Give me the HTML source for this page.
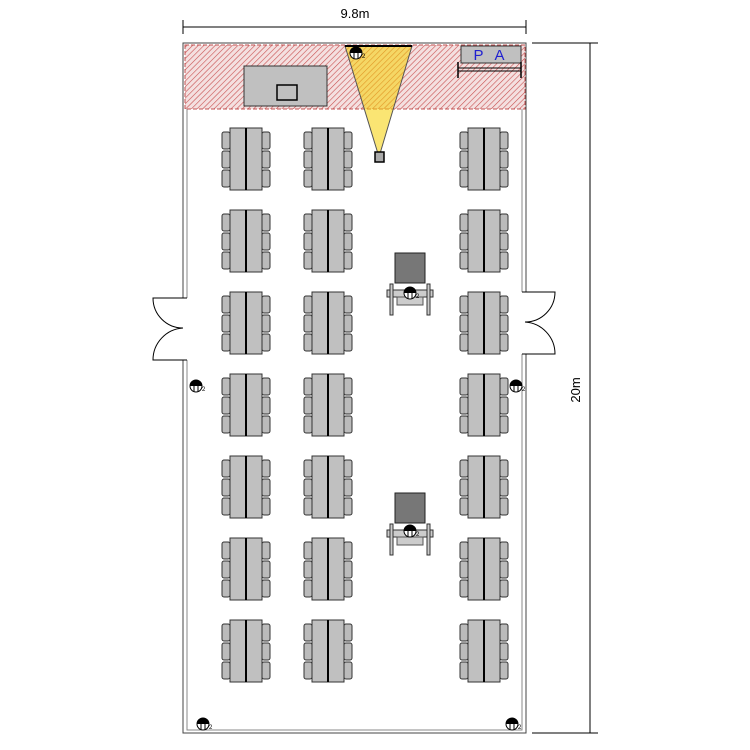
<!DOCTYPE html><html><head><style>body{margin:0;background:#fff}svg{display:block}</style></head><body>
<svg width="750" height="750" viewBox="0 0 750 750" xmlns="http://www.w3.org/2000/svg" font-family="Liberation Sans, sans-serif">
<defs>
<pattern id="h" width="4" height="4" patternUnits="userSpaceOnUse" patternTransform="rotate(45)"><rect width="4" height="4" fill="#f4e0e0"/><line x1="0" y1="0" x2="0" y2="4" stroke="#c85050" stroke-width="1.2"/></pattern>
<g id="t">
<rect x="-24" y="4" width="8" height="17" rx="2" fill="#bbb" stroke="#333"/><rect x="-24" y="23" width="8" height="17" rx="2" fill="#bbb" stroke="#333"/><rect x="-24" y="42" width="8" height="17" rx="2" fill="#bbb" stroke="#333"/>
<rect x="16" y="4" width="8" height="17" rx="2" fill="#bbb" stroke="#333"/><rect x="16" y="23" width="8" height="17" rx="2" fill="#bbb" stroke="#333"/><rect x="16" y="42" width="8" height="17" rx="2" fill="#bbb" stroke="#333"/>
<rect x="-16" y="0" width="32" height="62" fill="#c0c0c0" stroke="#333"/><line x1="0" y1="0" x2="0" y2="62" stroke="#000" stroke-width="2"/>
</g>
<g id="s"><circle r="6" fill="#fff" stroke="#000"/><path d="M-6,0 A6,6 0 0 1 6,0Z" fill="#000"/><line x1="-2" y1="0" x2="-2" y2="6" stroke="#000"/><line x1="2" y1="0" x2="2" y2="6" stroke="#000"/><text x="6" y="5" font-size="6">2</text></g>
<g id="p"><rect x="-15" y="0" width="30" height="30" fill="#777" stroke="#222"/><rect x="-23" y="37" width="46" height="7" fill="#ccc" stroke="#333"/><rect x="-20" y="31" width="3" height="31" fill="#ccc" stroke="#333"/><rect x="17" y="31" width="3" height="31" fill="#ccc" stroke="#333"/><rect x="-13" y="44" width="26" height="8" fill="#ccc" stroke="#555"/></g>
</defs>
<line x1="183" y1="27" x2="526" y2="27" stroke="#000"/><line x1="183" y1="20" x2="183" y2="34" stroke="#000"/><line x1="526" y1="20" x2="526" y2="34" stroke="#000"/>
<text x="355" y="18" font-size="13" text-anchor="middle">9.8m</text>
<line x1="590" y1="43" x2="590" y2="733" stroke="#000"/><line x1="532" y1="43" x2="598" y2="43" stroke="#000"/><line x1="532" y1="733" x2="598" y2="733" stroke="#000"/>
<text transform="translate(580,390) rotate(-90)" font-size="13" text-anchor="middle">20m</text>
<rect x="183" y="43" width="343" height="690" fill="#fff" stroke="#444" stroke-width="1"/>
<rect x="187" y="46" width="335" height="684" fill="none" stroke="#888" stroke-width="1"/>
<rect x="180" y="298" width="10" height="62" fill="#fff"/>
<path d="M187,298 H153 A30,30 0 0 0 183,328 A32,32 0 0 0 153,360 H187" fill="none" stroke="#000"/>
<rect x="519" y="292" width="10" height="62" fill="#fff"/>
<path d="M522,292 H555 A30,30 0 0 1 525,322 A32,32 0 0 1 555,354 H522" fill="none" stroke="#000"/>
<rect x="185" y="45" width="340" height="64" fill="url(#h)" stroke="#c05050" stroke-dasharray="4,2"/>
<rect x="244" y="66" width="83" height="40" fill="#c0c0c0" stroke="#333"/>
<rect x="277" y="85" width="20" height="15" fill="#c0c0c0" stroke="#000" stroke-width="1.5"/>
<polygon points="345,46 412,46 379,157" fill="#f5d000" fill-opacity="0.55" stroke="#555"/>
<line x1="345" y1="46" x2="412" y2="46" stroke="#000" stroke-width="2"/>
<rect x="375" y="152" width="9" height="10" fill="#aaa" stroke="#000" stroke-width="1.5"/>
<use href="#s" x="356" y="53"/>
<rect x="461" y="46" width="60" height="17" fill="#c0c0c0" stroke="#333"/>
<text x="491" y="60" font-size="15" fill="#2020d0" text-anchor="middle" letter-spacing="4">P A</text>
<line x1="458" y1="68" x2="521" y2="68" stroke="#000"/><line x1="458" y1="71" x2="521" y2="71" stroke="#000"/>
<line x1="458" y1="62" x2="458" y2="78" stroke="#000" stroke-width="1.5"/><line x1="521" y1="62" x2="521" y2="78" stroke="#000" stroke-width="1.5"/>
<g>
<use href="#t" x="246" y="128"/><use href="#t" x="328" y="128"/><use href="#t" x="484" y="128"/>
<use href="#t" x="246" y="210"/><use href="#t" x="328" y="210"/><use href="#t" x="484" y="210"/>
<use href="#t" x="246" y="292"/><use href="#t" x="328" y="292"/><use href="#t" x="484" y="292"/>
<use href="#t" x="246" y="374"/><use href="#t" x="328" y="374"/><use href="#t" x="484" y="374"/>
<use href="#t" x="246" y="456"/><use href="#t" x="328" y="456"/><use href="#t" x="484" y="456"/>
<use href="#t" x="246" y="538"/><use href="#t" x="328" y="538"/><use href="#t" x="484" y="538"/>
<use href="#t" x="246" y="620"/><use href="#t" x="328" y="620"/><use href="#t" x="484" y="620"/>
</g>
<use href="#p" x="410" y="253"/><use href="#p" x="410" y="493"/>
<use href="#s" x="410" y="293"/><use href="#s" x="410" y="531"/>
<use href="#s" x="196" y="386"/><use href="#s" x="516" y="386"/>
<use href="#s" x="203" y="724"/><use href="#s" x="512" y="724"/>
</svg>
</body></html>
